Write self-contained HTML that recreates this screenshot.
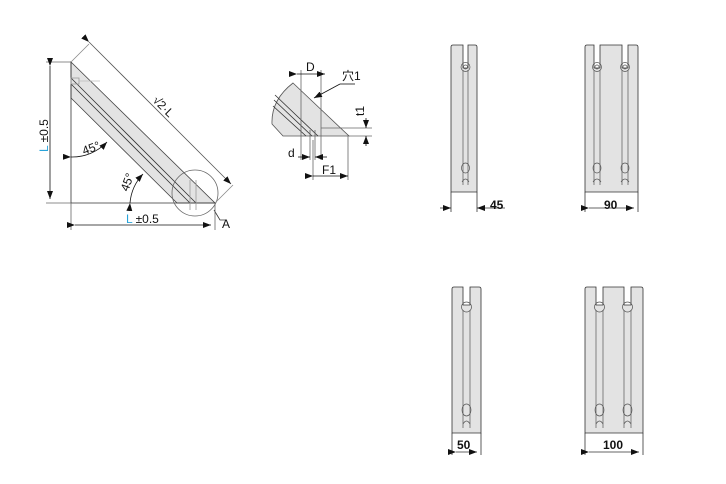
<!DOCTYPE html>
<html><head><meta charset="utf-8"><style>
html,body{margin:0;padding:0;background:#fff;}
svg{display:block;}
text{font-family:"Liberation Sans","Noto Sans CJK JP",sans-serif;font-size:12px;fill:#111;}
</style></head><body>
<svg width="726" height="484" viewBox="0 0 726 484" xmlns="http://www.w3.org/2000/svg">
<defs>
<marker id="a" markerWidth="8" markerHeight="6" refX="8" refY="3" orient="auto" markerUnits="userSpaceOnUse"><path d="M0,0 L8,3 L0,6z" fill="#111"/></marker>
</defs>
<g stroke="#333" stroke-width="0.8" fill="none">
<!-- main triangle -->
<polygon points="71,62 215,203 177,203 71,98" fill="#e3e3e3" stroke="#444"/>
<line x1="71" y1="62" x2="71" y2="203"/>
<line x1="71" y1="203" x2="215" y2="203"/>
<line x1="71" y1="78" x2="196" y2="203"/>
<line x1="71" y1="84" x2="190" y2="203"/>
<rect x="71" y="78" width="8" height="6" stroke="#999"/>
<line x1="79" y1="81" x2="100" y2="81" stroke="#bbb"/>
<line x1="190" y1="180" x2="190" y2="210" stroke="#999"/>
<line x1="196" y1="180" x2="196" y2="210" stroke="#999"/>
<circle cx="195" cy="193" r="23" stroke="#666"/>
<polyline points="214,210 220,220 226,220" stroke="#333"/>
<!-- dims -->
<line x1="46" y1="62" x2="71" y2="62" stroke="#666"/>
<line x1="46" y1="203" x2="71" y2="203" stroke="#666"/>
<line x1="50" y1="66" x2="50" y2="199" marker-start="url(#a)" marker-end="url(#a)" stroke="#111"/>
<line x1="71" y1="203" x2="71" y2="230" stroke="#666"/>
<line x1="215" y1="203" x2="215" y2="230" stroke="#666"/>
<line x1="75" y1="225" x2="211" y2="225" marker-start="url(#a)" marker-end="url(#a)" stroke="#111"/>
<line x1="71" y1="62" x2="89" y2="44" stroke="#888"/>
<line x1="215" y1="203" x2="233" y2="185" stroke="#888"/>
<line x1="89" y1="42" x2="231" y2="184" marker-start="url(#a)" marker-end="url(#a)" stroke="#555"/>
<path d="M71,157 A48,48 0 0 0 107,142" marker-start="url(#a)" marker-end="url(#a)" stroke="#111"/>
<path d="M130,203 A48,48 0 0 1 143,174" marker-start="url(#a)" marker-end="url(#a)" stroke="#111"/>
<!-- small view -->
<path d="M293,83 L349,136 L283,136 L272,124 Q271,100 293,83z" fill="#e3e3e3" stroke="#555"/>
<line x1="275" y1="95" x2="318" y2="136"/>
<line x1="274" y1="100" x2="312" y2="136"/>
<line x1="273" y1="106" x2="306" y2="136"/>
<line x1="301" y1="70" x2="301" y2="160" stroke="#666"/>
<line x1="321" y1="70" x2="321" y2="160" stroke="#666"/>
<line x1="297" y1="74" x2="325" y2="74" marker-start="url(#a)" marker-end="url(#a)" stroke="#111"/>
<line x1="310" y1="130" x2="310" y2="160" stroke="#666"/>
<line x1="315" y1="130" x2="315" y2="160" stroke="#666"/>
<line x1="298" y1="157" x2="310" y2="157" marker-end="url(#a)" stroke="#111"/>
<line x1="327" y1="157" x2="315" y2="157" marker-end="url(#a)" stroke="#111"/>
<line x1="313" y1="140" x2="313" y2="180" stroke="#666"/>
<line x1="348" y1="136" x2="348" y2="180" stroke="#666"/>
<line x1="313" y1="176" x2="348" y2="176" marker-start="url(#a)" marker-end="url(#a)" stroke="#111"/>
<line x1="321" y1="128" x2="372" y2="128" stroke="#666"/>
<line x1="349" y1="136" x2="372" y2="136" stroke="#666"/>
<line x1="366" y1="118" x2="366" y2="128" marker-end="url(#a)" stroke="#111"/>
<line x1="366" y1="146" x2="366" y2="136" marker-end="url(#a)" stroke="#111"/>
<line x1="340" y1="84" x2="314" y2="98" marker-end="url(#a)" stroke="#111"/>
<line x1="340" y1="84" x2="355" y2="84" stroke="#111"/>
</g>
<g stroke="#333" stroke-width="0.8" fill="#e3e3e3">
<!-- 45 -->
<path d="M451,192 V47 Q451,45 453,45 H463 V68 H468 V45 H475 Q477,45 477,47 V192z"/>
<!-- 90 -->
<path d="M585,192 V47 Q585,45 587,45 H594 V68 H600 V45 H622 V68 H628 V45 H636 Q638,45 638,47 V192z"/>
<!-- 50 -->
<path d="M452,433 V289 Q452,287 454,287 H463 V305 H470 V287 H479 Q481,287 481,289 V433z"/>
<!-- 100 -->
<path d="M585,433 V289 Q585,287 587,287 H596 V305 H603 V287 H624 V305 H631 V287 H641 Q643,287 643,289 V433z"/>
</g>
<g stroke="#555" stroke-width="0.7" fill="none">
<line x1="463" y1="70" x2="463" y2="185"/><line x1="468" y1="70" x2="468" y2="185"/>
<circle cx="465.5" cy="67" r="4.5"/><circle cx="465.5" cy="67" r="2"/><ellipse cx="465.5" cy="168" rx="4" ry="5"/><path d="M462,182 Q465.5,176 469,182"/>
<line x1="594" y1="70" x2="594" y2="185"/><line x1="600" y1="70" x2="600" y2="185"/>
<circle cx="597" cy="67" r="4.5"/><circle cx="597" cy="67" r="2"/><ellipse cx="597" cy="168" rx="4" ry="5"/><path d="M593,182 Q597,176 601,182"/>
<line x1="622" y1="70" x2="622" y2="185"/><line x1="628" y1="70" x2="628" y2="185"/>
<circle cx="625" cy="67" r="4.5"/><circle cx="625" cy="67" r="2"/><ellipse cx="625" cy="168" rx="4" ry="5"/><path d="M621,182 Q625,176 629,182"/>
<line x1="463" y1="310" x2="463" y2="428"/><line x1="470" y1="310" x2="470" y2="428"/>
<circle cx="466.5" cy="307" r="5"/><ellipse cx="466.5" cy="410" rx="4.5" ry="6"/><path d="M463,424 Q466.5,418 470,424"/>
<line x1="596" y1="310" x2="596" y2="428"/><line x1="603" y1="310" x2="603" y2="428"/>
<circle cx="599.5" cy="307" r="5"/><ellipse cx="599.5" cy="410" rx="4.5" ry="6"/><path d="M596,424 Q599.5,418 603,424"/>
<line x1="624" y1="310" x2="624" y2="428"/><line x1="631" y1="310" x2="631" y2="428"/>
<circle cx="627.5" cy="307" r="5"/><ellipse cx="627.5" cy="410" rx="4.5" ry="6"/><path d="M624,424 Q627.5,418 631,424"/>
</g>
<g stroke="#333" stroke-width="0.8">
<line x1="451" y1="192" x2="451" y2="212"/><line x1="477" y1="192" x2="477" y2="212"/>
<line x1="440" y1="208" x2="451" y2="208" marker-end="url(#a)"/><line x1="505" y1="208" x2="477" y2="208" marker-end="url(#a)"/>
<line x1="585" y1="192" x2="585" y2="212"/><line x1="638" y1="192" x2="638" y2="212"/>
<line x1="589" y1="208" x2="634" y2="208" marker-start="url(#a)" marker-end="url(#a)"/>
<line x1="452" y1="433" x2="452" y2="455"/><line x1="481" y1="433" x2="481" y2="455"/>
<line x1="456" y1="452" x2="477" y2="452" marker-start="url(#a)" marker-end="url(#a)"/>
<line x1="585" y1="433" x2="585" y2="455"/><line x1="643" y1="433" x2="643" y2="455"/>
<line x1="589" y1="452" x2="639" y2="452" marker-start="url(#a)" marker-end="url(#a)"/>
</g>
<g font-weight="bold">
<text x="490" y="209">45</text>
<text x="604" y="209">90</text>
<text x="457" y="449">50</text>
<text x="603" y="449">100</text>
</g>
<text x="126" y="223"><tspan fill="#29a3d9" style="fill:#29a3d9">L</tspan> ±0.5</text>
<text transform="translate(48,152) rotate(-90)"><tspan style="fill:#29a3d9">L</tspan> ±0.5</text>
<text x="222" y="228">A</text>
<text transform="translate(84,155) rotate(-20)">45°</text>
<text transform="translate(128,192) rotate(-70)">45°</text>
<text transform="translate(152,101) rotate(45)">√2·L</text>
<text x="306" y="71">D</text>
<text x="342" y="80">穴1</text>
<text x="288" y="157">d</text>
<text x="322" y="174">F1</text>
<text transform="translate(364,116) rotate(-90)">t1</text>
</svg>
</body></html>
